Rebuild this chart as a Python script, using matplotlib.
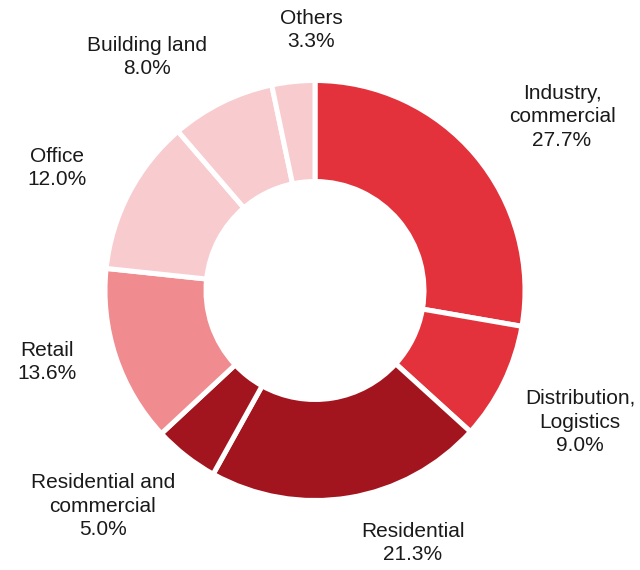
import matplotlib.pyplot as plt

categories = ['Industry,\ncommercial', 'Distribution,\nLogistics', 'Residential',
              'Residential and\ncommercial', 'Retail', 'Office', 'Building land', 'Others']
shares = [27.7, 9.0, 21.3, 5.0, 13.6, 12.0, 8.0, 3.3]
colors = ['#E3323B', '#E3323B', '#A3151E', '#A3151E', '#F08B8F',
          '#F8CBCE', '#F8CBCE', '#F8CBCE']
# label centres in pixel coords (x, y from top)
label_pos = [(562, 117), (580, 422), (413, 543), (103, 506),
             (47, 362), (57, 168), (147, 57), (311, 30)]

plt.rcParams['font.family'] = ['Liberation Sans', 'DejaVu Sans']

W, H = 640, 570
fig = plt.figure(figsize=(W / 100, H / 100), dpi=100)
ax = fig.add_axes([0, 0, 1, 1])
ax.set_xlim(0, W)
ax.set_ylim(0, H)
ax.set_aspect('equal')
ax.axis('off')

cx, cy, r = 315, H - 290.5, 210
ax.pie(shares, colors=colors, startangle=90, counterclock=False,
       center=(cx, cy), radius=r, normalize=True,
       wedgeprops=dict(width=101, edgecolor='white', linewidth=3.6))

for lab, val, (x, y) in zip(categories, shares, label_pos):
    ax.text(x, H - y, f'{lab}\n{val:.1f}%', ha='center', va='center',
            fontsize=15, color='#1a1a1a', linespacing=1.3)

ax.set_xlim(0, W)
ax.set_ylim(0, H)
fig.savefig('out.png', dpi=100)
